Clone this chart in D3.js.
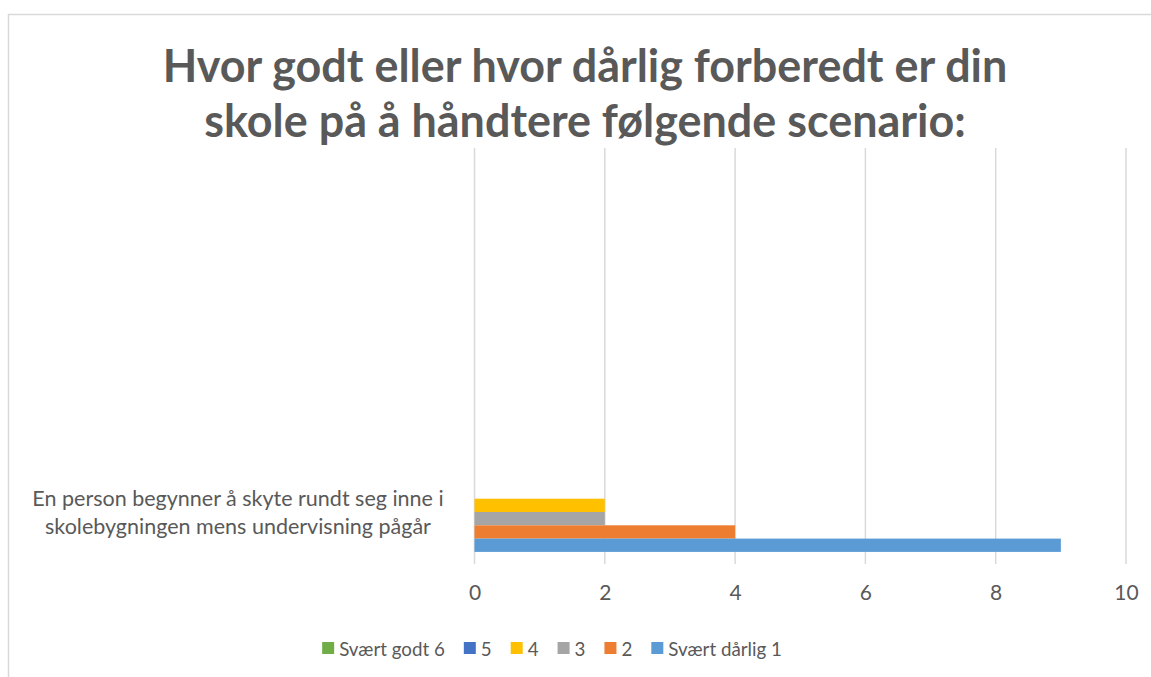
<!DOCTYPE html>
<html>
<head>
<meta charset="utf-8">
<script src="https://cdn.jsdelivr.net/npm/d3@7"></script>
<style>
  body { margin: 0; background: #fff; }
  text { font-family: Lato, "Open Sans", sans-serif; }
</style>
</head>
<body>
<div class="canvas"></div>
<script>
// data
const categories = ["", "", "", "En person begynner å skyte rundt seg inne i skolebygningen mens undervisning pågår"];
const seriesNames = ["Svært godt 6", "5", "4", "3", "2", "Svært dårlig 1"];
const svaertGodt6 = [null, null, null, 0];
const fem = [null, null, null, 0];
const fire = [null, null, null, 2];
const tre = [null, null, null, 2];
const to = [null, null, null, 4];
const svaertDarlig1 = [null, null, null, 9];
const xTicks = [0, 2, 4, 6, 8, 10];
const titleLines = ["Hvor godt eller hvor dårlig forberedt er din", "skole på å håndtere følgende scenario:"];
const colors = ["#70ad47", "#4472c4", "#ffc000", "#a5a5a5", "#ed7d31", "#5b9bd5"];

const seriesValues = [svaertGodt6, fem, fire, tre, to, svaertDarlig1];
const series = seriesNames.map((name, i) => ({ name, values: seriesValues[i], color: colors[i] }));

const grey = '#595959';

const svg = d3.select('.canvas')
  .append('svg')
  .attr('width', 1151)
  .attr('height', 677);

// chart border (cropped at right and bottom)
svg.append('rect')
  .attr('x', 8.5)
  .attr('y', 14.5)
  .attr('width', 1300)
  .attr('height', 800)
  .attr('fill', '#fff')
  .attr('stroke', '#d9d9d9')
  .attr('stroke-width', 1.5);

const fitWidth = (sel, target) => {
  const w = sel.node().getComputedTextLength();
  const fs = parseFloat(sel.attr('font-size'));
  sel.attr('font-size', fs * target / w);
  return fs * target / w;
};

// title
const t1 = svg.append('text')
  .attr('x', 585).attr('y', 82)
  .attr('text-anchor', 'middle')
  .attr('font-size', 40).attr('font-weight', 'bold')
  .attr('fill', grey)
  .text(titleLines[0]);
fitWidth(t1, 845);
svg.append('text')
  .attr('x', 585).attr('y', 137)
  .attr('text-anchor', 'middle')
  .attr('font-size', t1.attr('font-size')).attr('font-weight', 'bold')
  .attr('fill', grey)
  .text(titleLines[1]);

// scales
const x = d3.scaleLinear().domain([0, 10]).range([474.5, 1126]);
const y = d3.scaleBand().domain(d3.range(categories.length)).range([148, 564]);
const yInner = d3.scaleBand()
  .domain(seriesNames)
  .range([0, y.bandwidth()])
  .paddingInner(0)
  .paddingOuter(0.91);

// gridlines
svg.append('g')
  .selectAll('line')
  .data(xTicks)
  .join('line')
  .attr('x1', d => x(d)).attr('x2', d => x(d))
  .attr('y1', 148).attr('y2', 564)
  .attr('stroke', '#d9d9d9')
  .attr('stroke-width', 1.5);

// bars
series.forEach(s => {
  svg.append('g')
    .selectAll('rect')
    .data(s.values.map((v, i) => ({ v, i })).filter(d => d.v !== null))
    .join('rect')
    .attr('x', x(0))
    .attr('y', d => y(d.i) + yInner(s.name))
    .attr('width', d => x(d.v) - x(0))
    .attr('height', yInner.bandwidth())
    .attr('fill', s.color);
});

// x axis labels
const xAxis = svg.append('g')
  .attr('transform', 'translate(0,600)')
  .call(d3.axisBottom(x).tickValues(xTicks).tickSize(0).tickPadding(0));
xAxis.select('.domain').remove();
xAxis.selectAll('text')
  .attr('dy', 0)
  .attr('fill', grey)
  .attr('font-size', 21)
  .style('font-family', 'Lato, sans-serif');

// category labels (wrapped)
categories.forEach((c, i) => {
  if (!c) return;
  const words = c.split(' ');
  const lbl = svg.append('text')
    .attr('text-anchor', 'middle')
    .attr('font-size', 21.5)
    .attr('fill', grey);
  const lines = [];
  let cur = [];
  const probe = lbl.append('tspan');
  words.forEach(w => {
    const test = cur.concat(w).join(' ');
    probe.text(test);
    if (probe.node().getComputedTextLength() > 455 && cur.length) {
      lines.push(cur.join(' '));
      cur = [w];
    } else {
      cur.push(w);
    }
  });
  lines.push(cur.join(' '));
  probe.remove();
  const cy = y(i) + y.bandwidth() / 2;
  lines.forEach((l, k) => {
    lbl.append('tspan')
      .attr('x', 238)
      .attr('y', cy + (k - (lines.length - 1) / 2) * 28 + 8)
      .text(l);
  });
});

// legend
const legend = svg.append('g');
const probeLeg = svg.append('text').attr('font-size', 20).text(seriesNames[0]);
const legFs = fitWidth(probeLeg, 105.7);
probeLeg.remove();
let lx = 0;
series.forEach(s => {
  const g = legend.append('g');
  g.append('rect').attr('width', 12).attr('height', 12).attr('y', -14).attr('fill', s.color);
  const tx = g.append('text').attr('x', 17).attr('font-size', legFs).attr('fill', grey).text(s.name);
  const w = 17 + tx.node().getComputedTextLength();
  g.attr('transform', `translate(${lx},0)`);
  lx += w + 19;
});
const legendW = lx - 19;
legend.attr('transform', `translate(${552 - legendW / 2},656)`);
</script>
</body>
</html>
